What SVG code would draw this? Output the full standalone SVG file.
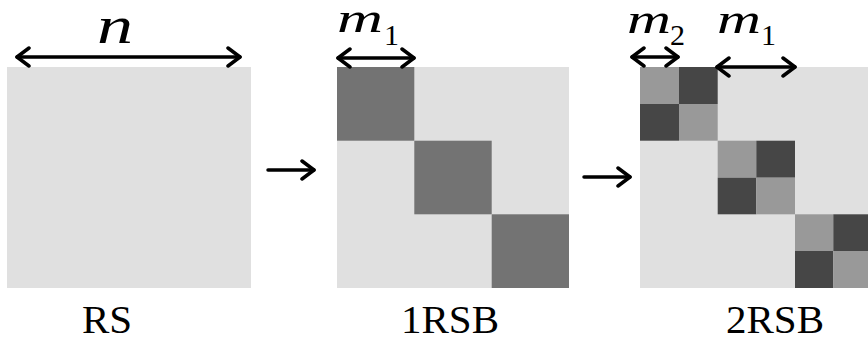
<svg xmlns="http://www.w3.org/2000/svg" width="868" height="339" viewBox="0 0 868 339">
  <style>
    .bg { fill: #e0e0e0; }
    .blk { fill: #737373; }
    .lt { fill: #999999; }
    .dk { fill: #464646; }
    .arr { stroke: #000; stroke-width: 3.5; fill: none; stroke-linecap: round; stroke-linejoin: round; }
    .math { font-family: "Liberation Serif", "DejaVu Serif", serif; font-style: italic; fill: #000; }
    .sub { font-family: "Liberation Serif", "DejaVu Serif", serif; font-size: 30px; fill: #000; }
    .lbl { font-family: "Liberation Serif", "DejaVu Serif", serif; font-size: 41px; fill: #000; text-anchor: middle; }
  </style>
  <defs>
    <marker id="head" viewBox="0 0 16 22" refX="14" refY="11" markerWidth="16" markerHeight="22" markerUnits="userSpaceOnUse" orient="auto-start-reverse">
      <path d="M2,2 L14,11 L2,20" fill="none" stroke="#000" stroke-width="3.5" stroke-linecap="round" stroke-linejoin="round"/>
    </marker>
  </defs>

  <!-- RS: a single uniform matrix -->
  <g id="rs">
    <rect class="bg" x="7" y="67" width="244" height="221"/>
    <text class="math" x="97" y="43" font-size="52" textLength="36" lengthAdjust="spacingAndGlyphs">n</text>
    <text class="lbl" x="107" y="333">RS</text>
  </g>

  <!-- 1RSB: three diagonal blocks -->
  <g id="rsb1">
    <rect class="bg" x="337" y="67" width="232" height="221"/>
    <rect class="blk" x="337" y="67" width="77.3" height="73.7"/>
    <rect class="blk" x="414.3" y="140.7" width="77.4" height="73.6"/>
    <rect class="blk" x="491.7" y="214.3" width="77.3" height="73.7"/>
    <text class="math" x="337" y="32" font-size="42" textLength="46" lengthAdjust="spacingAndGlyphs">m</text>
    <text class="sub" x="384" y="45">1</text>
    <text class="lbl" x="450" y="333">1RSB</text>
  </g>

  <!-- 2RSB: diagonal blocks, each split into a 2x2 pattern -->
  <g id="rsb2">
    <rect class="bg" x="640" y="67" width="232" height="221"/>
    <g id="b1">
      <rect class="lt" x="640" y="67" width="39" height="37"/>
      <rect class="dk" x="679" y="67" width="38.7" height="37"/>
      <rect class="dk" x="640" y="104" width="39" height="36.7"/>
      <rect class="lt" x="679" y="104" width="38.7" height="36.7"/>
    </g>
    <g id="b2">
      <rect class="lt" x="717.7" y="140.7" width="38.6" height="37"/>
      <rect class="dk" x="756.3" y="140.7" width="38.7" height="37"/>
      <rect class="dk" x="717.7" y="177.7" width="38.6" height="36.6"/>
      <rect class="lt" x="756.3" y="177.7" width="38.7" height="36.6"/>
    </g>
    <g id="b3">
      <rect class="lt" x="795" y="214.3" width="38.3" height="36.7"/>
      <rect class="dk" x="833.3" y="214.3" width="38.7" height="36.7"/>
      <rect class="dk" x="795" y="251" width="38.3" height="37"/>
      <rect class="lt" x="833.3" y="251" width="38.7" height="37"/>
    </g>
    <text class="math" x="627" y="33" font-size="42" textLength="44" lengthAdjust="spacingAndGlyphs">m</text>
    <text class="sub" x="670" y="45">2</text>
    <text class="math" x="717" y="33" font-size="42" textLength="44" lengthAdjust="spacingAndGlyphs">m</text>
    <text class="sub" x="761" y="45">1</text>
    <text class="lbl" x="775" y="333">2RSB</text>
  </g>

  <!-- connectors: width markers and step arrows -->
  <g id="connectors">
    <line class="arr" x1="17" y1="57" x2="240" y2="57" marker-start="url(#head)" marker-end="url(#head)"/>
    <line class="arr" x1="338" y1="58" x2="414" y2="58" marker-start="url(#head)" marker-end="url(#head)"/>
    <line class="arr" x1="632" y1="57" x2="678" y2="57" marker-start="url(#head)" marker-end="url(#head)"/>
    <line class="arr" x1="717" y1="67" x2="795" y2="67" marker-start="url(#head)" marker-end="url(#head)"/>
    <line class="arr" x1="268" y1="170" x2="314" y2="170" marker-end="url(#head)"/>
    <line class="arr" x1="584" y1="177" x2="630" y2="177" marker-end="url(#head)"/>
  </g>
</svg>
